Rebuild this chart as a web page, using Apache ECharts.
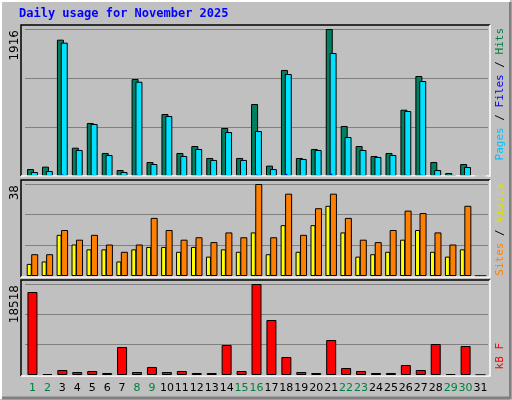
<!DOCTYPE html>
<html><head><meta charset="utf-8">
<script src="https://cdn.jsdelivr.net/npm/echarts@6/dist/echarts.min.js"></script>
<style>html,body{margin:0;padding:0;background:#c0c0c0}#c{width:512px;height:400px}</style>
</head><body><div id="c"></div>
<script>
var days=[];for(var i=1;i<=31;i++)days.push(String(i));
var weekend=['1','2','8','9','15','16','22','23','29','30'];
var hits=[91,122,1777,369,691,300,78,1264,182,808,300,391,235,626,235,938,135,1382,235,352,1916,652,391,261,300,864,1303,182,39,156,0];
var files=[52,65,1738,339,678,274,52,1229,156,782,261,352,209,573,209,586,91,1329,222,339,1603,508,339,248,274,847,1238,78,13,117,0];
var pages=[12,8,20,14,16,10,8,18,10,14,10,12,10,14,12,20,8,28,10,16,30,12,14,12,14,16,18,10,4,8,0];
var visits=[9,9,19,15,17,13,10,13,24,19,15,16,14,18,16,38,16,34,17,28,34,24,15,14,19,27,26,18,13,29,0];
var sites=[5,6,17,13,11,11,6,11,12,12,10,12,8,11,10,18,9,21,10,21,29,18,8,9,10,15,19,10,8,11,0];
var kbytes=[16890,200,1017,610,814,407,5698,610,1628,610,814,407,407,6105,814,18518,11192,3663,610,407,7122,1424,814,407,407,2035,1017,6308,200,5901,0];
var maxTop=1916,maxMid=38,maxBot=18518;

var grids=[{left:25,right:24,top:29,bottom:224},{left:25,right:24,top:184,bottom:124},{left:25,right:24,top:284,bottom:25}];
function xa(idx,show){return {type:'category',data:days,gridIndex:idx,axisLine:{show:false},axisTick:{show:false},
 axisLabel:show?{show:true,interval:0,margin:8,fontFamily:'DejaVu Sans',fontSize:11,formatter:function(v){return weekend.indexOf(v)>=0?'{g|'+v+'}':'{b|'+v+'}';},
 rich:{g:{color:'#008040',fontFamily:'DejaVu Sans',fontSize:11},b:{color:'#000',fontFamily:'DejaVu Sans',fontSize:11}}}:{show:false}};}
function ya(idx,max){return {type:'value',gridIndex:idx,min:0,max:max,interval:max/3,axisLabel:{show:false},axisLine:{show:false},axisTick:{show:false},splitLine:{show:true,lineStyle:{color:'#808080',width:1}}};}
var bs={borderColor:'#000',borderWidth:1};
function bar(name,data,xi,yi,color,w,gap,extra){var s={name:name,type:'bar',data:data,xAxisIndex:xi,yAxisIndex:yi,barWidth:w,barGap:gap,itemStyle:Object.assign({color:color},bs),silent:true};return Object.assign(s,extra||{});}
var frames=[[21,25,469,151],[21,180,469,97],[21,280,469,96]];
var gfx=[
 {type:'rect',shape:{x:1,y:1,width:508,height:397},style:{fill:'none',stroke:'#ffffff',lineWidth:2}},
 {type:'line',shape:{x1:510,y1:2,x2:510,y2:399},style:{stroke:'#808080',lineWidth:3}},
 {type:'line',shape:{x1:2,y1:398,x2:510,y2:398},style:{stroke:'#808080',lineWidth:3}},
 {type:'text',left:19,top:8,style:{text:'Daily usage for November 2025',fill:'#0000ff',font:'bold 12px "DejaVu Sans Mono"'}}
];
frames.forEach(function(f){
 gfx.push({type:'polyline',shape:{points:[[f[0],f[1]+f[3]],[f[0],f[1]],[f[0]+f[2],f[1]]]},style:{stroke:'#000',lineWidth:1.5,fill:'none'},z:10});
 gfx.push({type:'polyline',shape:{points:[[f[0]+f[2],f[1]],[f[0]+f[2],f[1]+f[3]],[f[0],f[1]+f[3]]]},style:{stroke:'#fff',lineWidth:1.5,fill:'none'},z:10});
});
gfx.push({type:'text',x:15,y:30,rotation:Math.PI/2,style:{text:String(maxTop),fill:'#000',font:'12px "DejaVu Sans"',align:'right',verticalAlign:'middle'}});
gfx.push({type:'text',x:15,y:185,rotation:Math.PI/2,style:{text:String(maxMid),fill:'#000',font:'12px "DejaVu Sans"',align:'right',verticalAlign:'middle'}});
gfx.push({type:'text',x:15,y:285,rotation:Math.PI/2,style:{text:String(maxBot),fill:'#000',font:'12px "DejaVu Sans"',align:'right',verticalAlign:'middle'}});
var f='11px "DejaVu Sans Mono"';
gfx.push({type:'text',x:500,y:28,rotation:Math.PI/2,style:{text:'{p|Pages}{s| / }{f|Files}{s| / }{h|Hits}',align:'right',verticalAlign:'middle',rich:{p:{fill:'#00c0ff',font:f},s:{fill:'#000',font:f},f:{fill:'#0000ff',font:f},h:{fill:'#008040',font:f}}}});
gfx.push({type:'text',x:500,y:183,rotation:Math.PI/2,style:{text:'{a|Sites}{s| / }{b|Visits}',align:'right',verticalAlign:'middle',rich:{a:{fill:'#ff8000',font:f},s:{fill:'#000',font:f},b:{fill:'#e0e000',font:f}}}});
gfx.push({type:'text',x:500,y:343,rotation:Math.PI/2,style:{text:'kB F',fill:'#ff0000',font:f,align:'right',verticalAlign:'middle'}});

var chart=echarts.init(document.getElementById('c'));
chart.setOption({animation:false,backgroundColor:'#c0c0c0',grid:grids,
 xAxis:[xa(0,false),xa(0,false),xa(1,false),xa(2,true)],
 yAxis:[ya(0,maxTop),ya(1,maxMid),ya(2,maxBot)],
 series:[
  bar('Hits',hits,0,0,'#008060',7,'-45%'),
  bar('Files',files,0,0,'#00e0ff',7,'-45%'),
  bar('Pages',pages,1,0,'#0000ff',2,'0%',{z:5,itemStyle:{color:'#0000ff',borderWidth:0}}),
  bar('Sites',sites,2,1,'#ffff00',5,'-10%'),
  bar('Visits',visits,2,1,'#ff8000',7,'-10%'),
  bar('KBytes',kbytes,3,2,'#ff0000',10,'0%')
 ],
 graphic:gfx});
</script></body></html>
